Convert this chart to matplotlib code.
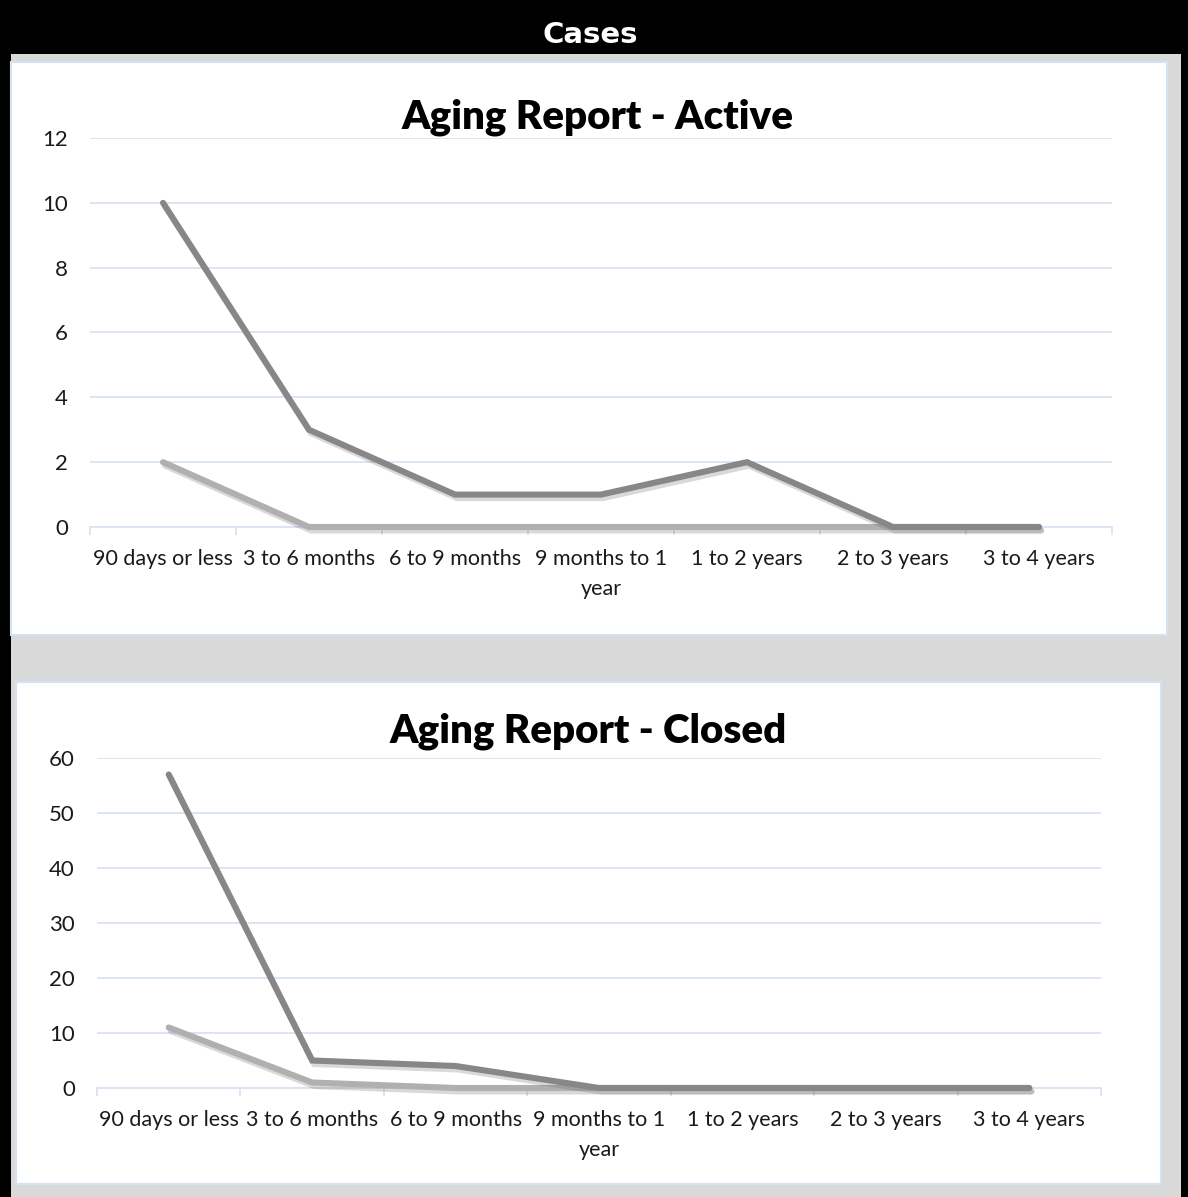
"""Cases aging report: two line charts (Active / Closed) on a framed dashboard panel."""
import matplotlib
matplotlib.use('Agg')
import matplotlib.pyplot as plt
import matplotlib.patheffects as pe
import numpy as np
from matplotlib.patches import Rectangle

# Data
categories = ['90 days or less', '3 to 6 months', '6 to 9 months', '9 months to 1\nyear',
              '1 to 2 years', '2 to 3 years', '3 to 4 years']
active_dark = [10, 3, 1, 1, 2, 0, 0]
active_light = [2, 0, 0, 0, 0, 0, 0]
closed_dark = [57, 5, 4, 0, 0, 0, 0]
closed_light = [11, 1, 0, 0, 0, 0, 0]

W, H = 1188, 1197
DARK = '#878787'
LIGHT = '#b0b0b0'
GRID = '#d9e3f3'
PANEL_EDGE = '#d6e1f2'

plt.rcParams['font.family'] = ['Lato', 'DejaVu Sans']


def fx(x):
    return x / W


def fy(y):
    return 1 - y / H


def rect_px(fig, x0, y0, x1, y1, **kw):
    fig.add_artist(Rectangle((fx(x0), fy(y1)), fx(x1) - fx(x0), fy(y0) - fy(y1),
                             transform=fig.transFigure, zorder=-10, **kw))


def line_chart(fig, box, dark, light, ymax, ystep, title, title_xy):
    x0, y0, x1, y1 = box
    ax = fig.add_axes([fx(x0), fy(y1), fx(x1) - fx(x0), fy(y0) - fy(y1)])
    ax.set_facecolor('none')
    x = np.arange(len(categories))
    shadow = [pe.SimpleLineShadow(offset=(1.5, -2.5), shadow_color='#555555', alpha=0.22),
              pe.Normal()]
    ax.plot(x, light, color=LIGHT, lw=4.4, solid_capstyle='round',
            solid_joinstyle='miter', path_effects=shadow, zorder=3, clip_on=False)
    ax.plot(x, dark, color=DARK, lw=4.4, solid_capstyle='round',
            solid_joinstyle='miter', path_effects=shadow, zorder=4, clip_on=False)

    ax.set_xlim(-0.5, len(categories) - 0.5)
    ax.set_ylim(0, ymax)
    ax.set_yticks(np.arange(0, ymax + 1, ystep))
    ax.grid(axis='y', color=GRID, lw=1.3)
    ax.set_axisbelow(True)
    for s in ['top', 'right', 'left']:
        ax.spines[s].set_visible(False)
    ax.spines['bottom'].set_color(GRID)
    ax.spines['bottom'].set_linewidth(1.3)

    ax.set_xticks(x)
    ax.set_xticklabels(categories, fontsize=15.5, color='#1a1a1a', linespacing=1.6)
    ax.set_xticks(np.arange(-0.5, len(categories)), minor=True)
    ax.tick_params(axis='x', which='major', length=0, pad=16)
    ax.tick_params(axis='x', which='minor', length=5.5, width=1.3, color=GRID)
    ax.tick_params(axis='y', length=0, pad=16, labelsize=16, labelcolor='#1a1a1a')

    fig.text(fx(title_xy[0]), fy(title_xy[1]), title, fontsize=29, fontweight='heavy',
             ha='center', va='baseline', color='black')
    return ax


def main():
    fig = plt.figure(figsize=(W / 100, H / 100), dpi=100)
    fig.patch.set_facecolor('black')

    # gray backdrop and white chart panels
    rect_px(fig, 11, 54, 1181, H, facecolor='#d9d9d9', edgecolor='none')
    rect_px(fig, 11, 62, 1167, 635, facecolor='white', edgecolor=PANEL_EDGE, lw=1.5)
    rect_px(fig, 16, 682, 1161, 1184, facecolor='white', edgecolor=PANEL_EDGE, lw=1.5)

    fig.text(fx(590), fy(43), 'Cases', fontsize=21, fontweight='bold', color='white',
             ha='center', va='baseline', family='DejaVu Sans')

    line_chart(fig, (90, 138, 1112, 527), active_dark, active_light, 12, 2,
               'Aging Report - Active', (598, 128))
    line_chart(fig, (97, 758, 1101, 1088), closed_dark, closed_light, 60, 10,
               'Aging Report - Closed', (588, 743))

    fig.savefig('out.png', dpi=100, facecolor=fig.get_facecolor())
    plt.close()


if __name__ == '__main__':
    main()
